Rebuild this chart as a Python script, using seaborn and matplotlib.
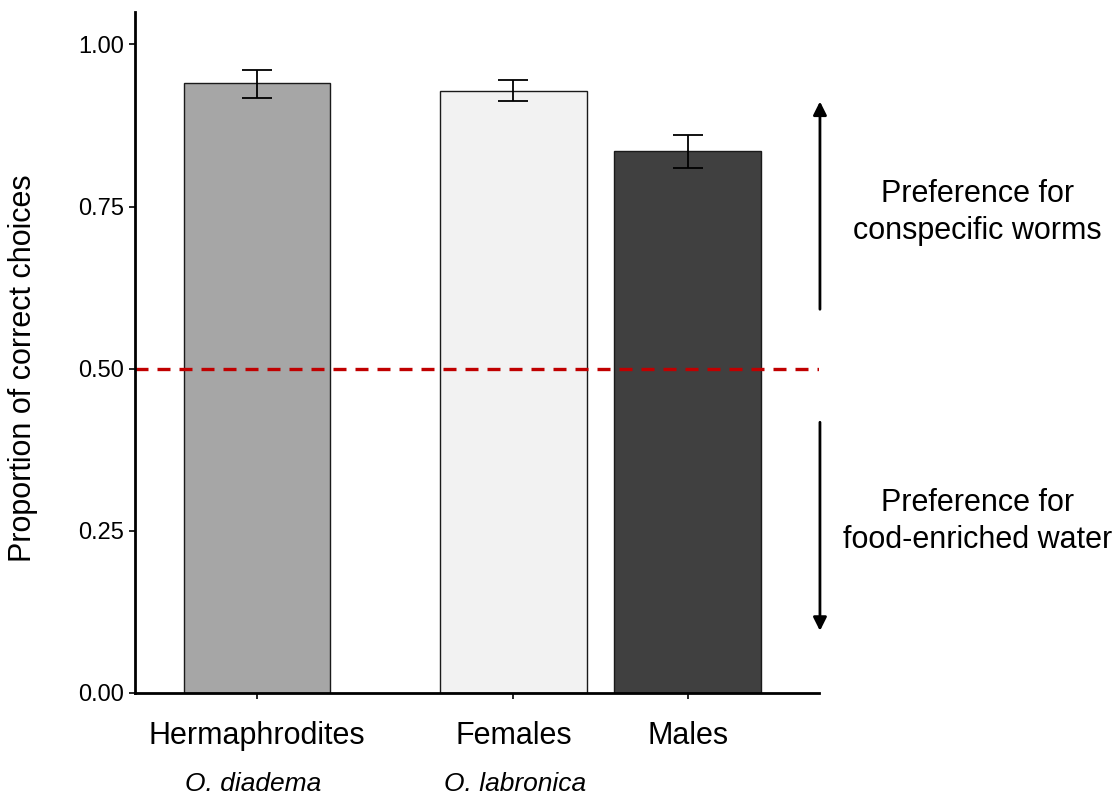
import pandas as pd
import numpy as np
import seaborn as sns
import matplotlib.pyplot as plt

# data
groups = ["Hermaphrodites", "Females", "Males"]
species = ["O. diadema", "O. labronica"]
positions = [1.0, 2.5, 3.52]
proportion = [0.940, 0.928, 0.835]
err_low = [0.918, 0.912, 0.810]
err_high = [0.961, 0.945, 0.861]
colors = ["#A6A6A6", "#F2F2F2", "#404040"]

df = pd.DataFrame({"group": groups, "pos": positions, "prop": proportion})

sns.set_style("ticks")
plt.rcParams["font.family"] = ["Liberation Sans", "DejaVu Sans"]
plt.rcParams["text.color"] = "black"
plt.rcParams["axes.labelcolor"] = "black"
plt.rcParams["xtick.color"] = "black"
plt.rcParams["ytick.color"] = "black"

fig = plt.figure(figsize=(11.2, 7.96), dpi=100)
ax = fig.add_axes([0.1205, 0.1294, 0.611, 0.8556])

sns.barplot(data=df, x="pos", y="prop", hue="pos", palette=colors,
            native_scale=True, width=0.84, errorbar=None, legend=False,
            edgecolor="#1a1a1a", linewidth=1.0, ax=ax)

yerr = [np.array(proportion) - np.array(err_low),
        np.array(err_high) - np.array(proportion)]
ax.errorbar(positions, proportion, yerr=yerr, fmt="none", ecolor="black",
            elinewidth=1.3, capsize=11, capthick=1.3)

# chance level
ax.axhline(0.5, color="#C00000", linestyle=(0, (3.9, 2.7)), linewidth=2.4)

ax.set_xlim(0.286, 4.29)
ax.set_ylim(0, 1.05)
ax.set_yticks([0, 0.25, 0.5, 0.75, 1.0])
ax.set_yticklabels(["0.00", "0.25", "0.50", "0.75", "1.00"], fontsize=17)
ax.set_xticks(positions)
ax.set_xticklabels(groups, fontsize=22)
ax.tick_params(axis="x", length=4, width=1.2, pad=16)
ax.tick_params(axis="y", length=4, width=1.2, pad=4)
ax.set_xlabel("")
ax.set_ylabel("Proportion of correct choices", fontsize=22)
ax.yaxis.set_label_coords(-0.141, 0.477)
sns.despine(ax=ax)
for s in ["left", "bottom"]:
    ax.spines[s].set_linewidth(2)
    ax.spines[s].set_color("black")

# species labels under the groups
ax.text(0.98, -0.133, species[0], transform=ax.get_xaxis_transform(),
        ha="center", va="center", fontsize=19, style="italic")
ax.text(2.51, -0.133, species[1], transform=ax.get_xaxis_transform(),
        ha="center", va="center", fontsize=19, style="italic")

# preference arrows
ax.annotate("", xy=(0.7321, 0.876), xytext=(0.7321, 0.608),
            xycoords="figure fraction",
            arrowprops=dict(arrowstyle="-|>", color="black", lw=2,
                            mutation_scale=20))
ax.annotate("", xy=(0.7321, 0.204), xytext=(0.7321, 0.473),
            xycoords="figure fraction",
            arrowprops=dict(arrowstyle="-|>", color="black", lw=2,
                            mutation_scale=20))
fig.text(0.8725, 0.733, "Preference for\nconspecific worms", ha="center",
         va="center", fontsize=22, linespacing=1.3)
fig.text(0.8725, 0.345, "Preference for\nfood-enriched water", ha="center",
         va="center", fontsize=22, linespacing=1.3)

fig.savefig("out.png", dpi=100)
